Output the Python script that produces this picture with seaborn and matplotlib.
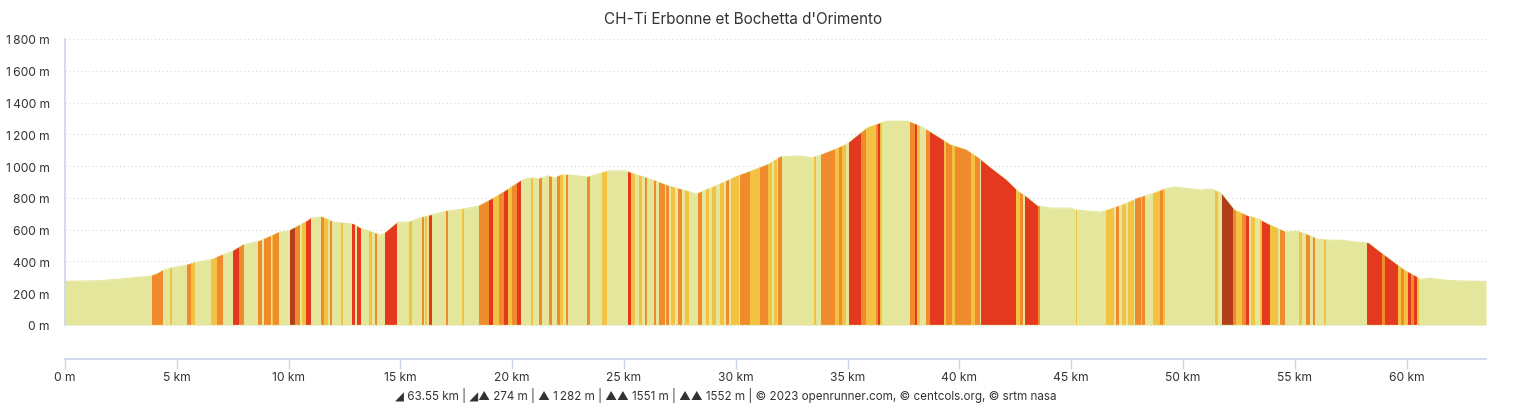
import matplotlib
matplotlib.use('Agg')
import matplotlib.pyplot as plt
import seaborn as sns

title = "CH-Ti Erbonne et Bochetta d'Orimento"

# elevation profile (km, m)
dist_km = [0.0, 1.6, 3.8, 4.1, 4.4, 4.7, 5.4, 5.7, 6.6, 6.9, 7.5, 7.95, 8.7, 9.3, 9.6,
           10.0, 10.5, 10.9, 11.0, 11.5, 12.0, 12.4, 12.9, 13.2, 14.1, 14.3, 14.9, 15.4,
           15.85, 16.4, 17.05, 17.8, 18.5, 19.1, 19.7, 20.45, 20.75, 21.2, 21.6, 21.9,
           22.2, 22.5, 23.4, 24.3, 25.1, 25.3, 26.0, 26.4, 27.0, 27.8, 28.2, 28.35, 29.2,
           30.1, 30.7, 31.5, 32.0, 32.9, 33.4, 33.8, 34.5, 35.0, 35.5, 35.9, 36.4, 36.7,
           37.7, 38.2, 38.6, 39.1, 39.6, 40.3, 40.85, 41.4, 42.1, 42.6, 43.0, 43.5, 44.1,
           45.0, 45.2, 46.3, 46.65, 47.4, 48.0, 48.6, 49.2, 49.6, 50.8, 51.25, 51.7, 52.3,
           52.9, 53.35, 53.8, 54.4, 54.6, 55.1, 55.6, 56.0, 56.5, 57.05, 57.8, 58.3, 58.7,
           59.3, 59.9, 60.4, 60.6, 61.05, 61.7, 62.6, 63.55]
elev_m = [274, 278, 306, 320, 344, 356, 375, 388, 413, 432, 464, 502, 527, 565, 584,
          590, 628, 659, 672, 679, 647, 641, 634, 609, 565, 577, 647, 647,
          672, 691, 716, 729, 748, 792, 843, 912, 925, 919, 938, 925,
          944, 944, 931, 969, 969, 957, 925, 906, 874, 843, 824, 830, 881,
          938, 969, 1013, 1058, 1064, 1051, 1070, 1108, 1140, 1197, 1241, 1266, 1282,
          1282, 1253, 1222, 1178, 1133, 1102, 1051, 988, 912, 843, 805, 748, 735,
          735, 723, 710, 723, 761, 799, 824, 855, 868, 849, 855, 830, 723,
          685, 668, 634, 596, 584, 590, 565, 540, 533, 533, 521, 514, 470,
          407, 344, 306, 287, 293, 281, 275, 274]

# slope bands: start km, end km, class (1 yellow, 2 orange, 3 red, 4 dark)
band_start = [3.9, 4.7, 5.45, 5.65, 6.55, 6.8, 7.5, 7.8, 8.65, 8.9, 9.25, 9.3, 10.05, 10.27,
              10.6, 10.8, 11.45, 11.6, 11.85, 12.35, 12.85, 13.05, 13.6, 13.85, 14.3, 15.4,
              15.95, 16.1, 16.3, 17.05, 17.75, 18.5, 18.95, 19.15, 19.4, 19.65, 19.8, 20.0,
              20.2, 20.85, 21.2, 21.65, 22.0, 22.15, 22.4, 23.35, 24.0, 25.2, 25.3, 25.65,
              25.95, 26.35, 26.55, 26.9, 27.1, 27.4, 27.75, 28.3, 28.65, 28.95, 29.3, 29.55,
              29.8, 30.2, 30.65, 31.1, 31.45, 31.7, 31.9, 33.5, 33.8, 34.45, 34.6, 34.75,
              35.05, 35.6, 35.8, 36.25, 36.35, 36.45, 37.8, 38.0, 38.1, 38.5, 38.7, 39.3,
              39.4, 39.65, 39.8, 40.5, 40.7, 40.95, 42.55, 42.7, 42.95, 43.5, 45.2, 46.55,
              47.0, 47.25, 47.55, 47.85, 48.1, 48.15, 48.65, 48.95, 49.1, 51.45, 51.75,
              52.25, 52.35, 52.65, 52.8, 53.05, 53.45, 53.55, 53.9, 54.35, 55.2, 55.5, 55.8,
              56.3, 58.25, 58.9, 59.05, 59.6, 59.75, 59.9, 60.05, 60.2, 60.35, 60.45]
band_end = [4.37, 4.8, 5.65, 5.8, 6.8, 7.05, 7.8, 8.0, 8.8, 9.2, 9.3, 9.55, 10.27, 10.5,
            10.8, 11.0, 11.6, 11.75, 11.95, 12.45, 12.95, 13.25, 13.75, 13.95, 14.85, 15.5,
            16.05, 16.2, 16.4, 17.15, 17.85, 18.95, 19.15, 19.4, 19.65, 19.8, 20.0, 20.2,
            20.4, 20.95, 21.35, 21.8, 22.15, 22.25, 22.5, 23.5, 24.25, 25.3, 25.5, 25.8,
            26.05, 26.45, 26.85, 27.0, 27.3, 27.6, 27.9, 28.5, 28.8, 29.1, 29.45, 29.7,
            30.15, 30.65, 31.1, 31.45, 31.6, 31.85, 32.05, 33.6, 34.45, 34.6, 34.75, 34.95,
            35.6, 35.8, 36.25, 36.35, 36.45, 36.55, 38.0, 38.1, 38.25, 38.7, 39.3, 39.4,
            39.65, 39.8, 40.5, 40.7, 40.9, 42.55, 42.7, 42.85, 43.5, 43.6, 45.25, 46.9,
            47.15, 47.45, 47.8, 48.1, 48.15, 48.3, 48.95, 49.1, 49.2, 51.55, 52.25,
            52.35, 52.65, 52.8, 52.95, 53.2, 53.55, 53.9, 54.25, 54.55, 55.3, 55.7, 55.9,
            56.4, 58.9, 59.05, 59.6, 59.75, 59.9, 60.05, 60.2, 60.35, 60.45, 60.55]
band_level = [2, 1, 2, 1, 1, 2, 3, 2, 2, 2, 1, 2, 4, 2,
              1, 3, 2, 1, 2, 1, 3, 3, 1, 2, 3, 1,
              2, 1, 3, 2, 1, 2, 3, 1, 2, 3, 1, 2,
              3, 1, 2, 2, 2, 1, 2, 2, 1, 3, 1, 1,
              2, 2, 2, 2, 1, 2, 1, 2, 1, 1, 1, 2,
              1, 2, 1, 2, 1, 1, 2, 1, 2, 1, 2, 1,
              3, 2, 1, 2, 3, 1, 2, 3, 1, 2, 3, 1,
              2, 1, 2, 1, 2, 3, 1, 2, 3, 2, 1, 1,
              2, 1, 1, 2, 1, 2, 1, 2, 1, 1, 4,
              2, 1, 2, 3, 1, 1, 3, 1, 2, 1, 2, 2,
              1, 3, 2, 3, 1, 2, 1, 3, 2, 3, 1]

y_ticks = [0, 200, 400, 600, 800, 1000, 1200, 1400, 1600, 1800]
y_labels = ['0 m', '200 m', '400 m', '600 m', '800 m', '1\u2009000 m', '1\u2009200 m',
            '1\u2009400 m', '1\u2009600 m', '1\u2009800 m']
x_ticks = [0, 5, 10, 15, 20, 25, 30, 35, 40, 45, 50, 55, 60]
x_labels = ['0 m'] + [f'{k} km' for k in x_ticks[1:]]
footer = ('\u25e2 63.55 km | \u25e2\u25b2 274 m | \u25b2 1\u2009282 m | \u25b2\u25b2 1551 m | '
          '\u25b2\u25b2 1552 m | \u00a9 2023 openrunner.com, \u00a9 centcols.org, \u00a9 srtm nasa')

colors = {0: '#e3e69b', 1: '#f4c243', 2: '#ef8b2c', 3: '#e5391f', 4: '#b23e1c'}
axis_col = '#ccd6eb'
text_col = '#333333'

sns.set_theme(style='white')
plt.rcParams['font.family'] = ['Inter', 'DejaVu Sans']

fig = plt.figure(figsize=(15.36, 4.10), dpi=100)
ax = fig.add_axes([65 / 1536, 50 / 410, 1421 / 1536, 320 / 410])

sns.lineplot(x=dist_km, y=elev_m, ax=ax, color=colors[0], lw=0.8, zorder=1)
fill = ax.fill_between(dist_km, elev_m, 0, color=colors[0], lw=0, zorder=2)
clip = fill.get_paths()[0]
for s, e, lev in zip(band_start, band_end, band_level):
    span = ax.axvspan(s, e, color=colors[lev], lw=0, zorder=3)
    span.set_clip_path(clip, ax.transData)

ax.set_xlim(0, 63.55)
ax.set_ylim(-215, 1800)
ax.set_yticks(y_ticks, y_labels)
ax.set_xticks(x_ticks, x_labels)
ax.yaxis.grid(True, linestyle=(0, (1, 2.5)), color='#d8d8d8', lw=0.8)
ax.xaxis.grid(False)
ax.set_axisbelow(True)

sns.despine(ax=ax, top=True, right=True)
ax.spines['left'].set_color(axis_col)
ax.spines['left'].set_bounds(0, 1800)
ax.spines['bottom'].set_color(axis_col)
ax.tick_params(axis='y', length=0, pad=11, labelsize=8.7, labelcolor=text_col)
ax.tick_params(axis='x', length=7, width=1, color=axis_col, direction='out', pad=1.5,
               labelsize=8.7, labelcolor=text_col, bottom=True)

fig.text(743 / 1536, 1 - 20 / 410, title, ha='center', va='center', fontsize=11, color=text_col)
fig.text(726 / 1536, 1 - 396 / 410, footer, ha='center', va='center', fontsize=8.4, color=text_col)

fig.savefig('out.png', dpi=100)
